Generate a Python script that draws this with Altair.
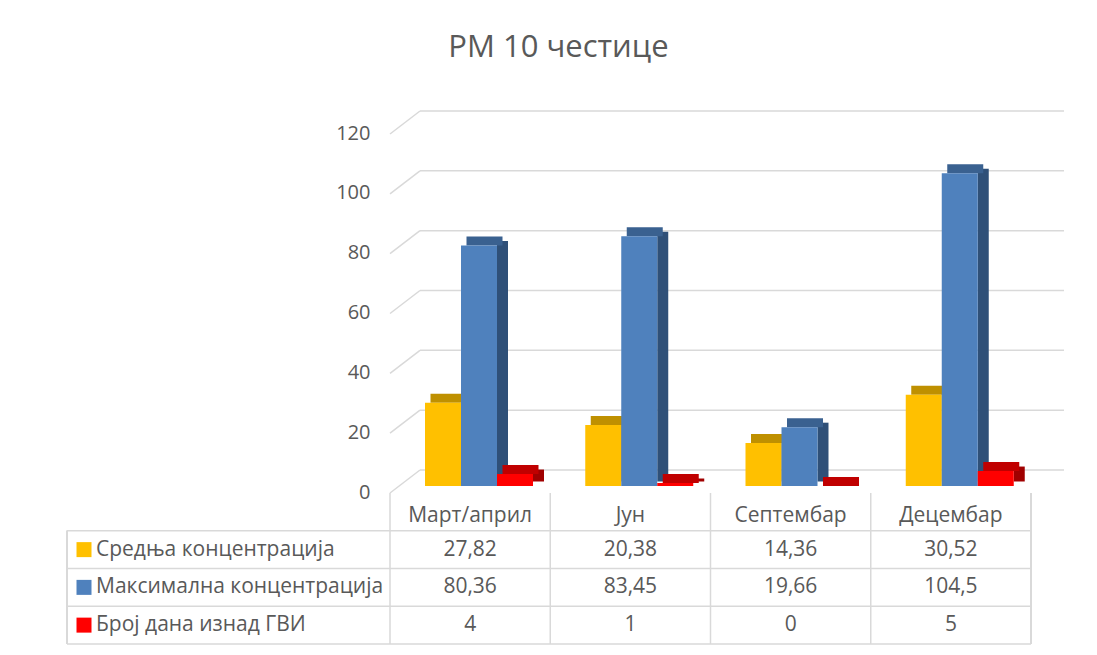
import altair as alt
import pandas as pd

categories = ["Март/април", "Јун", "Септембар", "Децембар"]
series = ["Средња концентрација", "Максимална концентрација", "Број дана изнад ГВИ"]
mean_conc = [27.82, 20.38, 14.36, 30.52]
max_conc = [80.36, 83.45, 19.66, 104.5]
days_above = [4, 1, 0, 5]
y_ticks = [0, 20, 40, 60, 80, 100, 120]

front_colors = ["#FFC000", "#4F81BD", "#FF0000"]
top_colors = ["#BF9000", "#3A6190", "#C00000"]
side_colors = ["#A07800", "#2F5078", "#A00000"]

FONT = "Open Sans"
TXT = "#595959"
GRID = "#D9D9D9"


def fmt(v):
    return str(v).replace(".", ",")


rows = []
for s, vals, fc, tc, sc in zip(series, [mean_conc, max_conc, days_above],
                               front_colors, top_colors, side_colors):
    for c, v in zip(categories, vals):
        rows.append({"category": c, "series": s, "value": v, "label": fmt(v),
                     "front": fc, "top": tc, "side": sc})
df = pd.DataFrame(rows)
grid_df = pd.DataFrame({"tick": y_ticks})

W, H, TH = 641, 359, 151

x_enc = alt.X("category:N", sort=categories,
              scale=alt.Scale(domain=categories, paddingInner=0, paddingOuter=0),
              axis=None)


def xo(rng):
    return alt.XOffset("series:N", sort=series,
                       scale=alt.Scale(domain=series, range=rng, paddingOuter=0, paddingInner=0))


y_scale = alt.Scale(domain=[0, 120], nice=False)
y_axis = alt.Axis(values=y_ticks, grid=False, domain=False, ticks=False,
                  labelOffset=6, labelPadding=20, labelFont=FONT,
                  labelFontSize=20, labelColor=TXT)

back_grid = alt.Chart(grid_df).mark_rule(color=GRID, strokeWidth=1.5, yOffset=-16).encode(
    y=alt.Y("tick:Q", scale=y_scale, title=None, axis=y_axis),
    x=alt.value(30), x2=alt.value(674))
diag_grid = alt.Chart(grid_df).mark_rule(color=GRID, strokeWidth=1.5, yOffset=7, y2Offset=-16).encode(
    y=alt.Y("tick:Q", scale=y_scale, title=None, axis=y_axis), y2=alt.Y2("tick"),
    x=alt.value(0), x2=alt.value(30))

side = alt.Chart(df).mark_bar(width=11, yOffset=-4.5, y2Offset=-4.5).encode(
    x=x_enc, xOffset=xo([58.5, 166.5]),
    y=alt.Y("value:Q", scale=y_scale, title=None, axis=y_axis),
    color=alt.Color("side:N", scale=None))
top = alt.Chart(df).mark_bar(yOffset=-9, y2Offset=0).encode(
    x=x_enc, xOffset=xo([40.5, 148.5]),
    y=alt.Y("value:Q", scale=y_scale, title=None, axis=y_axis),
    y2=alt.Y2("value"), color=alt.Color("top:N", scale=None))
front = alt.Chart(df).mark_bar().encode(
    x=x_enc, xOffset=xo([35, 143]),
    y=alt.Y("value:Q", scale=y_scale, title=None, axis=y_axis),
    color=alt.Color("front:N", scale=None))

bars = alt.layer(back_grid, diag_grid, side, top, front).resolve_scale(
    xOffset="independent").properties(width=W, height=H)

# ---- data table ----
table_rows = ["header"] + series
y_tab = alt.Scale(domain=table_rows, paddingInner=0, paddingOuter=0)
hdr_df = pd.DataFrame({"category": categories, "row": "header"})
row_df = pd.DataFrame({"row": table_rows})
leg_df = pd.DataFrame({"row": series, "color": front_colors})
cat_df = pd.DataFrame({"category": categories})

hdr = alt.Chart(hdr_df).mark_text(font=FONT, fontSize=21, color=TXT, dy=4).encode(
    x=x_enc, y=alt.Y("row:N", sort=table_rows, scale=y_tab, axis=None), text="category:N")
vals = alt.Chart(df).mark_text(font=FONT, fontSize=21, color=TXT).encode(
    x=x_enc, y=alt.Y("series:N", sort=table_rows, scale=y_tab, axis=None), text="label:N")
leg_txt = alt.Chart(leg_df).mark_text(font=FONT, fontSize=21, color=TXT, align="left").encode(
    x=alt.value(-294), y=alt.Y("row:N", sort=table_rows, scale=y_tab, axis=None), text="row:N")
leg_sq = alt.Chart(leg_df).mark_square(size=225, opacity=1).encode(
    x=alt.value(-306), y=alt.Y("row:N", sort=table_rows, scale=y_tab, axis=None),
    color=alt.Color("color:N", scale=None))
hlines = alt.Chart(row_df).mark_rule(color=GRID, strokeWidth=1.5).encode(
    y=alt.Y("row:N", sort=table_rows, scale=y_tab, axis=None, bandPosition=1),
    x=alt.value(-323), x2=alt.value(W))
vlines = alt.Chart(cat_df).mark_rule(color=GRID, strokeWidth=1.5).encode(
    x=alt.X("category:N", sort=categories,
            scale=alt.Scale(domain=categories, paddingInner=0, paddingOuter=0),
            axis=None, bandPosition=0),
    y=alt.value(0), y2=alt.value(TH))
vline_r = alt.Chart(cat_df).mark_rule(color=GRID, strokeWidth=1.5).encode(
    x=alt.value(W), y=alt.value(0), y2=alt.value(TH))
vline_l = alt.Chart(cat_df).mark_rule(color=GRID, strokeWidth=1.5).encode(
    x=alt.value(-323), y=alt.value(TH / 4), y2=alt.value(TH))

table = alt.layer(hlines, vlines, vline_r, vline_l, leg_sq, leg_txt, hdr, vals).properties(
    width=W, height=TH)

chart = alt.vconcat(bars, table, spacing=7, bounds="flush").properties(
    title=alt.TitleParams("PM 10 честице", font=FONT, fontSize=31, color=TXT,
                          fontWeight="normal", anchor="middle", offset=46, dx=-7),
    padding={"left": 58, "top": 24, "right": 5, "bottom": 5},
).configure(background="white").configure_view(stroke="transparent", strokeWidth=0)

chart.save("out.html", embed_options={"renderer": "svg", "actions": False})
